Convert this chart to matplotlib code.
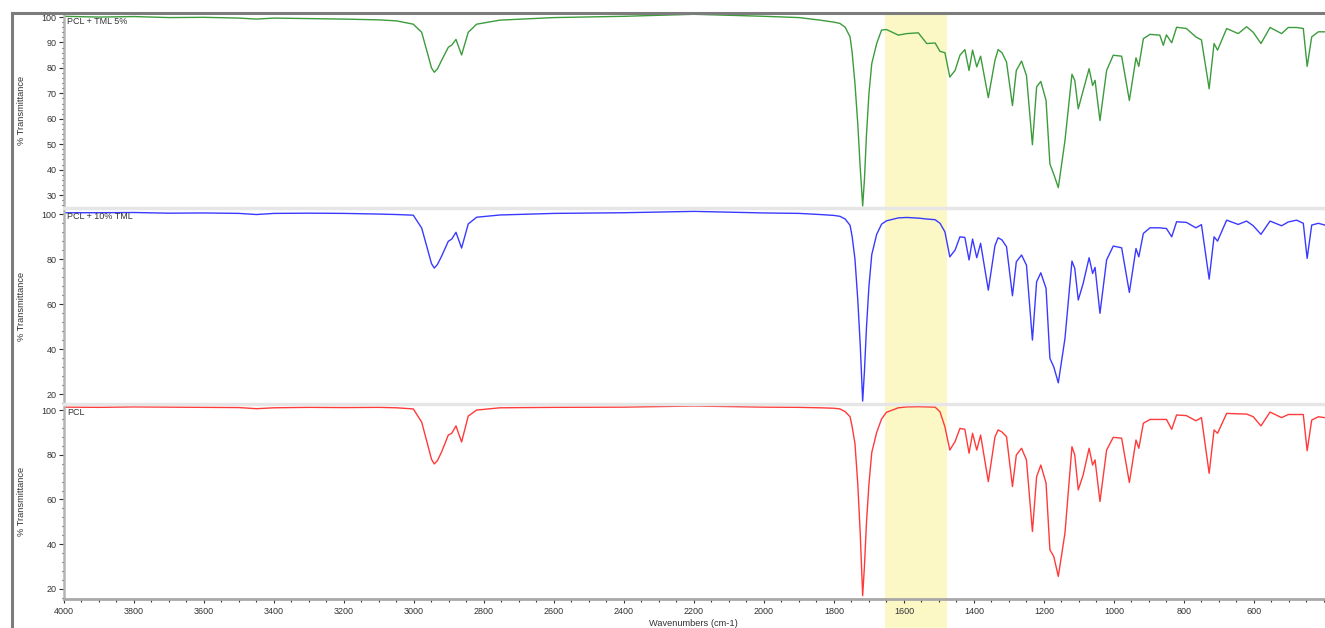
import matplotlib
matplotlib.use('Agg')
import matplotlib.pyplot as plt
import matplotlib.transforms as mtransforms
from matplotlib.lines import Line2D
from matplotlib.patches import Rectangle
from matplotlib.ticker import MultipleLocator

plt.rcParams['font.family'] = ['Liberation Sans', 'DejaVu Sans']

# wavenumbers (cm-1)
wavenumbers = [4000, 3900, 3800, 3700, 3600, 3500, 3450, 3400, 3300, 3200, 3100, 3050,
               3002, 2978, 2959, 2950, 2942, 2933, 2921, 2902, 2892, 2880, 2864, 2845, 2821, 2754,
               2600, 2400, 2200, 2000, 1900, 1840,
               1800, 1783, 1768, 1754, 1748, 1740, 1732, 1725, 1718, 1713, 1707, 1700, 1692,
               1678, 1664, 1650,
               1616, 1592, 1559, 1535, 1511, 1497, 1483, 1469, 1454, 1440,
               1426, 1414, 1404, 1392, 1381, 1359, 1340, 1331, 1320, 1307, 1290, 1279,
               1264, 1250, 1233, 1221, 1209, 1194, 1183, 1172, 1159, 1140,
               1120, 1112, 1102, 1088, 1071, 1061, 1054, 1040, 1021, 1002,
               978, 956, 937, 929, 916, 897, 869, 859, 850, 835,
               821, 793, 766, 750, 728, 714, 704, 678, 645, 621,
               602, 580, 554, 521, 502, 478, 459, 448, 435, 416, 397]

pcl_tml5 = [100.3, 100.0, 100.2, 99.8, 99.9, 99.6, 99.2, 99.6, 99.4, 99.2, 98.9, 98.5,
            97.2, 94.0, 84.6, 80.0, 78.3, 79.6, 83.0, 88.1, 89.0, 91.2, 85.1, 94.0, 97.2, 98.8,
            99.8, 100.3, 101.1, 100.3, 99.8, 98.8,
            98.0, 97.5, 96.0, 92.2, 86.0, 73.8, 58.0, 40.8, 25.7, 36.0, 54.0, 70.0, 81.7,
            89.6, 94.9, 95.1,
            92.9, 93.5, 93.8, 89.6, 89.8, 86.5, 86.0, 76.4, 79.0, 85.0,
            87.2, 79.0, 87.0, 80.4, 84.6, 68.3, 83.0, 87.2, 86.0, 82.3, 65.2, 79.0,
            82.7, 77.0, 49.8, 72.5, 74.7, 67.2, 42.2, 38.2, 32.9, 51.4,
            77.5, 75.1, 63.9, 71.1, 79.7, 73.1, 75.1, 59.3, 79.0, 85.0,
            84.6, 67.2, 84.0, 80.6, 91.5, 93.2, 92.9, 88.9, 93.0, 89.9,
            96.0, 95.5, 92.2, 91.0, 71.8, 89.6, 87.0, 95.5, 93.5, 96.2,
            94.0, 89.6, 95.9, 93.5, 95.9, 95.9, 95.5, 80.6, 92.2, 94.2, 94.2]

pcl_tml10 = [100.6, 100.6, 100.7, 100.4, 100.5, 100.3, 99.8, 100.3, 100.4, 100.3, 100.0, 99.8,
             99.5, 93.8, 83.1, 78.0, 76.0, 77.6, 81.3, 87.9, 88.9, 91.9, 84.9, 95.6, 98.6, 99.6,
             100.3, 100.6, 101.2, 100.5, 100.3, 99.8,
             99.4, 99.0, 97.8, 95.0, 90.0, 80.0, 62.0, 42.0, 16.9, 30.0, 50.0, 68.0, 82.0,
             91.0, 95.5, 97.0,
             98.3, 98.5, 98.2, 97.8, 97.5, 95.9, 92.1, 81.0, 84.0, 89.9,
             89.6, 79.6, 88.9, 80.6, 87.0, 66.2, 86.0, 89.5, 88.5, 85.5, 63.7, 78.8,
             81.8, 77.3, 44.0, 69.9, 73.9, 67.0, 35.9, 32.1, 25.0, 44.7,
             79.1, 75.9, 61.8, 69.2, 80.6, 73.6, 76.3, 55.9, 79.6, 85.8,
             85.0, 65.2, 84.7, 81.0, 91.4, 93.9, 93.9, 93.7, 93.6, 89.9,
             96.6, 96.3, 93.9, 95.3, 71.1, 89.9, 88.0, 97.3, 95.4, 96.9,
             94.8, 91.0, 96.9, 94.8, 96.5, 97.3, 95.9, 80.3, 95.1, 95.9, 95.1]

pcl = [101.3, 101.2, 101.4, 101.3, 101.2, 101.1, 100.6, 101.0, 101.2, 101.1, 101.2, 101.0,
       100.5, 94.6, 83.4, 78.0, 75.9, 77.4, 81.3, 88.8, 89.6, 92.9, 85.7, 97.3, 100.0, 101.0,
       101.2, 101.3, 101.8, 101.3, 101.2, 101.0,
       100.8, 100.5, 99.3, 97.0, 92.5, 85.0, 67.0, 45.0, 17.0, 30.0, 50.0, 67.0, 81.0,
       90.0, 96.0, 99.0,
       101.0, 101.4, 101.5, 101.4, 101.3, 99.2, 92.5, 82.1, 85.9, 91.8,
       91.4, 80.7, 89.6, 82.1, 88.8, 68.0, 88.0, 91.1, 90.2, 88.1, 65.8, 79.9,
       82.9, 77.7, 45.7, 70.2, 75.4, 67.3, 37.5, 34.5, 25.6, 45.0,
       83.6, 79.9, 64.3, 71.0, 82.9, 75.4, 77.7, 59.1, 82.1, 87.8,
       87.4, 67.6, 86.6, 82.9, 94.1, 95.8, 95.8, 95.8, 95.8, 91.4,
       97.8, 97.5, 95.2, 96.6, 71.7, 91.1, 89.6, 98.5, 98.3, 98.2,
       97.0, 92.9, 99.1, 96.6, 98.0, 98.0, 98.0, 81.8, 95.5, 97.0, 96.6]

labels = ['PCL + TML 5%', 'PCL + 10% TML', 'PCL']
colors = ['#3c9c3c', '#3a3aff', '#ff3a3a']
highlight = (1655, 1477)

W, H = 1325, 628
fig = plt.figure(figsize=(W / 100, H / 100), dpi=100)

# panel extents in pixels (top, bottom)
panels = [(13, 208), (208, 404), (404, 599)]
ylims = [(24.9, 101.6), (15.6, 102.7), (15.5, 102.7)]
yticks = [(range(30, 101, 10), 2), (range(20, 101, 20), 4), (range(20, 101, 20), 4)]
series = [pcl_tml5, pcl_tml10, pcl]

axes = []
for i, (top, bot) in enumerate(panels):
    ax = fig.add_axes([64 / W, 1 - bot / H, (W - 64) / W, (bot - top) / H])
    ax.set_facecolor('none')
    ax.plot(wavenumbers, series[i], color=colors[i], lw=1.0)
    ax.set_xlim(4000, 397)
    ax.set_ylim(*ylims[i])
    ax.set_yticks(list(yticks[i][0]))
    ax.yaxis.set_minor_locator(MultipleLocator(yticks[i][1]))
    ax.tick_params(axis='y', which='major', labelsize=6.5, colors='#333333',
                   length=3.5, width=0.8, pad=2)
    ax.tick_params(axis='y', which='minor', length=1.8, width=0.8, colors='#333333')
    ax.spines['right'].set_visible(False)
    ax.spines['left'].set_color('#b4b4b4')
    ax.spines['left'].set_linewidth(1.8)
    if i == 0:
        ax.spines['top'].set_visible(False)
    else:
        ax.spines['top'].set_color('#e6e6e6')
        ax.spines['top'].set_linewidth(2.5)
    if i < 2:
        ax.spines['bottom'].set_visible(False)
        ax.tick_params(axis='x', which='both', bottom=False, labelbottom=False)
    ax.annotate(labels[i], xy=(0, 1), xycoords='axes fraction', xytext=(2, -3),
                textcoords='offset points', ha='left', va='top',
                fontsize=6.5, color='#333333')
    fig.text(22 / W, 1 - (top + bot) / 2 / H, '% Transmittance', rotation=90,
             ha='center', va='center', fontsize=6.7, color='#333333')
    axes.append(ax)

axb = axes[-1]
axb.xaxis.set_minor_locator(MultipleLocator(50))
axb.set_xticks(range(4000, 599, -200))
axb.spines['bottom'].set_color('#a8a8a8')
axb.spines['bottom'].set_linewidth(2.0)
axb.tick_params(axis='x', which='major', labelsize=6.5, colors='#333333',
                length=3, width=0.8, pad=3)
axb.tick_params(axis='x', which='minor', length=2, width=0.8, colors='#333333')
axb.set_xlim(4000, 397)

fig.text(693 / W, 1 - 624 / H, 'Wavenumbers (cm-1)', ha='center', va='center',
         fontsize=6.7, color='#333333')

# yellow highlight band spanning all panels
trans = mtransforms.blended_transform_factory(axb.transData, fig.transFigure)
band = Rectangle((highlight[0], 0), highlight[1] - highlight[0], 1 - 13 / H,
                 transform=trans, facecolor='#fbf8c6', edgecolor='none', zorder=-1)
fig.add_artist(band)

# window frame
fig.add_artist(Line2D([12 / W, 12 / W], [0, 1 - 13 / H], transform=fig.transFigure,
                      color='#7c7c7c', lw=2.2))
fig.add_artist(Line2D([12 / W, 1], [1 - 13 / H, 1 - 13 / H], transform=fig.transFigure,
                      color='#7c7c7c', lw=2.2))

fig.savefig('out.png', dpi=100)
